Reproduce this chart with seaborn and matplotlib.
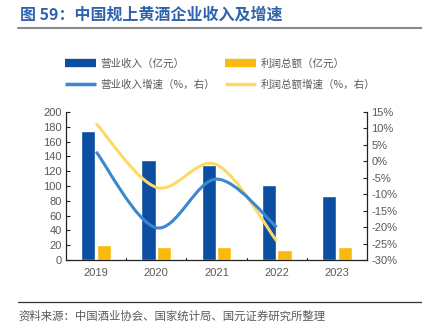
import numpy as np
import pandas as pd
import matplotlib
matplotlib.use("Agg")
import matplotlib.pyplot as plt
import seaborn as sns
from matplotlib.path import Path
from matplotlib.patches import PathPatch
from matplotlib.lines import Line2D

years = ["2019", "2020", "2021", "2022", "2023"]
revenue = [174, 135, 128, 102, 86]
profit = [20, 18, 18, 14, 17]
growth_years = ["2019", "2020", "2021", "2022"]
revenue_growth = [2.9, -20.2, -5.4, -20.0]
profit_growth = [11.5, -7.9, -1.0, -24.2]
left_ticks = list(range(0, 201, 20))
right_ticks = list(range(-30, 16, 5))

title = "图 59：中国规上黄酒企业收入及增速"
source = "资料来源：中国酒业协会、国家统计局、国元证券研究所整理"
lab_rev = "营业收入（亿元）"
lab_pro = "利润总额（亿元）"
lab_rg = "营业收入增速（%，右）"
lab_pg = "利润总额增速（%，右）"

C_BLUE = "#0b4ea2"
C_YEL = "#f9b90e"
C_LBLUE = "#3c87d2"
C_LYEL = "#ffd966"
GRAY = "#595959"

sns.set_theme(style="white")
plt.rcParams["font.family"] = ["Liberation Sans", "Noto Sans CJK SC", "DejaVu Sans"]

df = pd.DataFrame({
    "year": years * 2,
    "value": revenue + profit,
    "series": [lab_rev] * len(years) + [lab_pro] * len(years),
})

fig = plt.figure(figsize=(4.22, 3.33), dpi=100)
ax = fig.add_axes([66 / 422, (333 - 260) / 333, (367 - 66) / 422, (260 - 112) / 333])
sns.barplot(data=df, x="year", y="value", hue="series", palette=[C_BLUE, C_YEL],
            width=0.52, gap=0.1, ax=ax, legend=False, saturation=1)
ax.set_xlim(-0.5, len(years) - 0.5)
ax.set_ylim(0, 200)
ax.set_yticks(left_ticks)
ax.set_xlabel("")
ax.set_ylabel("")
ax.tick_params(axis="y", direction="in", length=3, width=0.8, colors="#222222",
               labelcolor=GRAY, labelsize=8, pad=3)
ax.set_xticks(range(len(years)))
ax.set_xticklabels(years)
ax.tick_params(axis="x", length=0, labelcolor=GRAY, labelsize=8, pad=6)
for b in np.arange(0.5, len(years) - 0.5, 1.0):
    ax.plot([b, b], [0, 3], color="#222222", lw=0.8, clip_on=False)
for s in ["top", "right"]:
    ax.spines[s].set_visible(False)
for s in ["left", "bottom"]:
    ax.spines[s].set_color("#222222")
    ax.spines[s].set_linewidth(0.9)

ax2 = ax.twinx()
ax2.set_ylim(-30, 15)
ax2.set_yticks(right_ticks)
ax2.set_yticklabels([f"{t}%" for t in right_ticks])
ax2.tick_params(axis="y", direction="in", length=3, width=0.8, colors="#222222",
                labelcolor=GRAY, labelsize=8, pad=3)
for s in ["top", "left", "bottom"]:
    ax2.spines[s].set_visible(False)
ax2.spines["right"].set_color("#222222")
ax2.spines["right"].set_linewidth(0.9)


def smooth_path(xs, ys):
    pts = np.column_stack([xs, ys]).astype(float)
    n = len(pts)
    verts = [pts[0]]
    codes = [Path.MOVETO]
    for i in range(n - 1):
        p0 = pts[max(i - 1, 0)]
        p1 = pts[i]
        p2 = pts[i + 1]
        p3 = pts[min(i + 2, n - 1)]
        c1 = p1 + (p2 - p0) / 6.0
        c2 = p2 - (p3 - p1) / 6.0
        verts += [c1, c2, p2]
        codes += [Path.CURVE4] * 3
    return Path(verts, codes)


gx = [years.index(y) for y in growth_years]
for vals, col in [(profit_growth, C_LYEL), (revenue_growth, C_LBLUE)]:
    ax2.add_patch(PathPatch(smooth_path(gx, vals), facecolor="none", edgecolor=col,
                            lw=2.2, capstyle="butt"))

h_rev = Line2D([], [], color=C_BLUE, lw=6, solid_capstyle="butt")
h_pro = Line2D([], [], color=C_YEL, lw=6, solid_capstyle="butt")
h_rg = Line2D([], [], color=C_LBLUE, lw=2.5, solid_capstyle="butt")
h_pg = Line2D([], [], color=C_LYEL, lw=2.5, solid_capstyle="butt")
handles = [h_rev, h_rg, h_pro, h_pg]
labels = [lab_rev, lab_rg, lab_pro, lab_pg]
leg = fig.legend(handles, labels, ncol=2, loc="center", bbox_to_anchor=(220 / 422, 1 - 74 / 333),
                 frameon=False, handlelength=3.0, handletextpad=0.4,
                 columnspacing=0.9, labelspacing=1.0, borderpad=0,
                 prop={"family": ["Noto Sans CJK SC", "DejaVu Sans"], "size": 7.6})
for t in leg.get_texts():
    t.set_color(GRAY)

fig.text(20 / 422, 1 - 15 / 333, title, color="#2f63ad", fontsize=11.5, fontweight="bold",
         va="center", ha="left", family=["Noto Sans CJK SC", "DejaVu Sans"])
fig.add_artist(Line2D([18 / 422, 1.0], [1 - 28 / 333, 1 - 28 / 333], color="#8a8a8a", lw=1.5))
fig.add_artist(Line2D([18 / 422, 1.0], [1 - 302 / 333, 1 - 302 / 333], color="#333333", lw=0.9))
fig.text(18 / 422, 1 - 316 / 333, source, color=GRAY, fontsize=8.2, va="center", ha="left",
         family=["Noto Sans CJK SC", "DejaVu Sans"])

fig.savefig("out.png", dpi=100)
